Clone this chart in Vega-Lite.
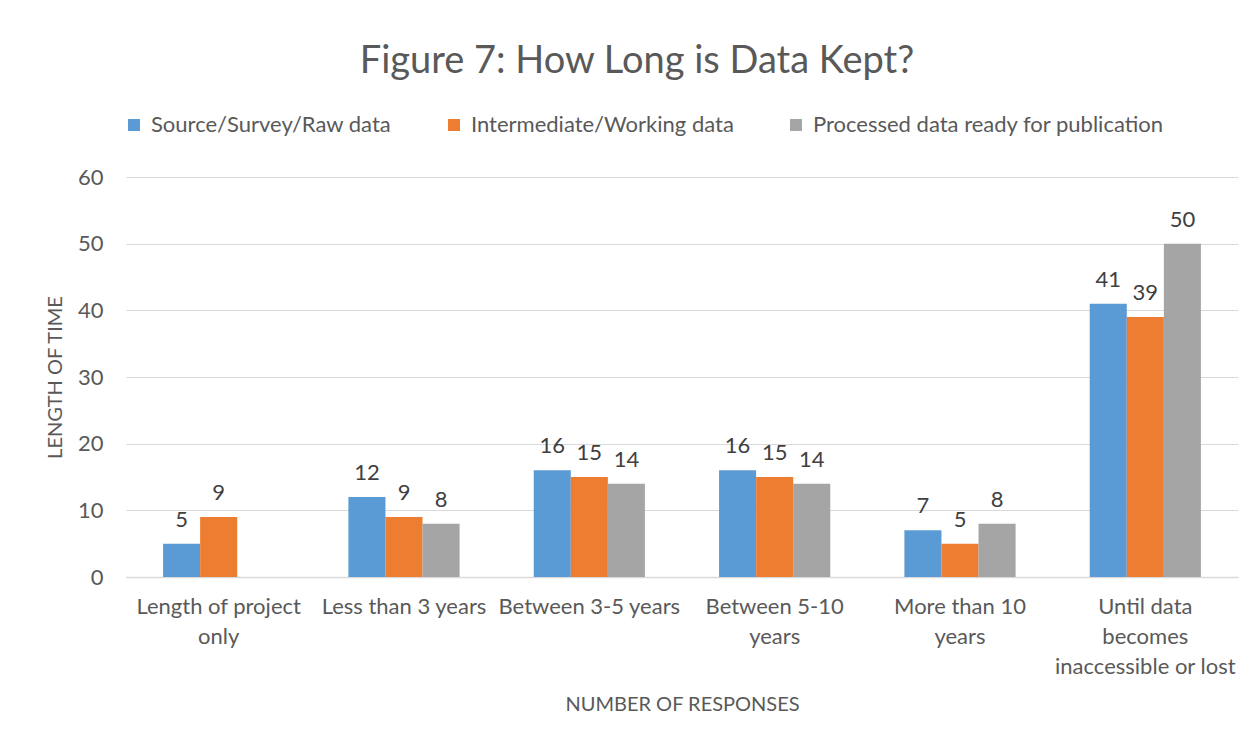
{
  "$schema": "https://vega.github.io/schema/vega-lite/v6.json",
  "width": 1112,
  "height": 400,
  "autosize": "none",
  "padding": {"left": 126, "top": 177, "right": 19, "bottom": 167},
  "background": "white",
  "title": {
    "text": "Figure 7: How Long is Data Kept?",
    "fontSize": 38,
    "fontWeight": "normal",
    "color": "#595959",
    "anchor": "middle",
    "frame": "group",
    "offset": 0,
    "dx": -45,
    "dy": -33
  },
  "config": {
    "font": "Lato",
    "view": {"stroke": null}
  },
  "data": {
    "values": [
      {"category": "Length of project|only", "series": "Source/Survey/Raw data", "value": 5},
      {"category": "Length of project|only", "series": "Intermediate/Working data", "value": 9},
      {"category": "Less than 3 years", "series": "Source/Survey/Raw data", "value": 12},
      {"category": "Less than 3 years", "series": "Intermediate/Working data", "value": 9},
      {"category": "Less than 3 years", "series": "Processed data ready for publication", "value": 8},
      {"category": "Between 3-5 years", "series": "Source/Survey/Raw data", "value": 16},
      {"category": "Between 3-5 years", "series": "Intermediate/Working data", "value": 15},
      {"category": "Between 3-5 years", "series": "Processed data ready for publication", "value": 14},
      {"category": "Between 5-10|years", "series": "Source/Survey/Raw data", "value": 16},
      {"category": "Between 5-10|years", "series": "Intermediate/Working data", "value": 15},
      {"category": "Between 5-10|years", "series": "Processed data ready for publication", "value": 14},
      {"category": "More than 10|years", "series": "Source/Survey/Raw data", "value": 7},
      {"category": "More than 10|years", "series": "Intermediate/Working data", "value": 5},
      {"category": "More than 10|years", "series": "Processed data ready for publication", "value": 8},
      {"category": "Until data|becomes|inaccessible or lost", "series": "Source/Survey/Raw data", "value": 41},
      {"category": "Until data|becomes|inaccessible or lost", "series": "Intermediate/Working data", "value": 39},
      {"category": "Until data|becomes|inaccessible or lost", "series": "Processed data ready for publication", "value": 50}
    ]
  },
  "encoding": {
    "x": {
      "field": "category",
      "type": "nominal",
      "sort": ["Length of project|only", "Less than 3 years", "Between 3-5 years", "Between 5-10|years", "More than 10|years", "Until data|becomes|inaccessible or lost"],
      "scale": {"paddingInner": 0.4, "paddingOuter": 0.2},
      "axis": {
        "title": "NUMBER OF RESPONSES",
        "titleFontSize": 20,
        "titleFontWeight": "normal",
        "titleColor": "#595959",
        "titlePadding": 17,
        "labelExpr": "split(datum.label, '|')",
        "labelAngle": 0,
        "labelFontSize": 22,
        "labelColor": "#595959",
        "labelLineHeight": 30,
        "labelPadding": 19,
        "labelBaseline": "top",
        "labelLimit": 0,
        "ticks": false,
        "domain": true,
        "domainColor": "#D9D9D9",
        "domainWidth": 1.5
      }
    },
    "xOffset": {
      "field": "series",
      "type": "nominal",
      "sort": ["Source/Survey/Raw data", "Intermediate/Working data", "Processed data ready for publication"],
      "scale": {"paddingInner": 0, "paddingOuter": 0}
    },
    "y": {
      "field": "value",
      "type": "quantitative",
      "scale": {"domain": [0, 60], "nice": false},
      "axis": {
        "values": [0, 10, 20, 30, 40, 50, 60],
        "title": "LENGTH OF TIME",
        "titleFontSize": 20,
        "titleFontWeight": "normal",
        "titleColor": "#595959",
        "titlePadding": 12,
        "labelFontSize": 22,
        "labelColor": "#595959",
        "labelPadding": 23,
        "ticks": false,
        "domain": false,
        "grid": true,
        "gridColor": "#D9D9D9",
        "gridWidth": 1.2
      }
    }
  },
  "layer": [
    {
      "mark": {"type": "bar"},
      "encoding": {
        "color": {
          "field": "series",
          "type": "nominal",
          "scale": {
            "domain": ["Source/Survey/Raw data", "Intermediate/Working data", "Processed data ready for publication"],
            "range": ["#5B9BD5", "#ED7D31", "#A5A5A5"]
          },
          "legend": {
            "title": null,
            "orient": "none",
            "legendX": -3,
            "legendY": -63,
            "direction": "horizontal",
            "columns": 3,
            "symbolType": "square",
            "symbolSize": 144,
            "symbolStrokeWidth": 0,
            "labelFontSize": 22,
            "labelColor": "#595959",
            "labelOffset": 6,
            "labelLimit": 0,
            "columnPadding": 51
          }
        }
      }
    },
    {
      "mark": {"type": "text", "baseline": "bottom", "dy": -12, "fontSize": 22, "color": "#404040"},
      "encoding": {
        "text": {"field": "value", "type": "quantitative"}
      }
    }
  ]
}
